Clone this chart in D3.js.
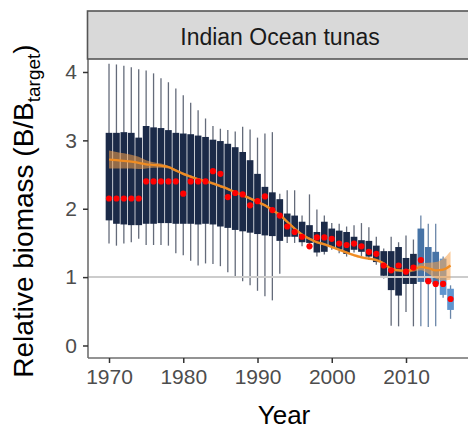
<!DOCTYPE html>
<html>
<head>
<meta charset="utf-8">
<script src="https://cdn.jsdelivr.net/npm/d3@7"></script>
<style>
  body { margin: 0; background: #fff; }
  text { font-family: 'Liberation Sans', Arial, sans-serif; }
</style>
</head>
<body>
<div id="chart"></div>
<script>
// values
const years = [1970, 1971, 1972, 1973, 1974, 1975, 1976, 1977, 1978, 1979,
  1980, 1981, 1982, 1983, 1984, 1985, 1986, 1987, 1988, 1989,
  1990, 1991, 1992, 1993, 1994, 1995, 1996, 1997, 1998, 1999,
  2000, 2001, 2002, 2003, 2004, 2005, 2006, 2007, 2008, 2009,
  2010, 2011, 2012, 2013, 2014, 2015, 2016];
const whiskerHigh = [4.12, 4.11, 4.09, 4.07, 4.04, 4.02, 3.98, 3.91, 3.85, 3.76,
  3.66, 3.55, 3.44, 3.32, 3.21, 3.17, 3.15, 3.13, 3.20, 3.16,
  3.04, 3.10, 3.12, 2.22, 2.27, 2.27, 1.90, 2.21, 1.99, 1.90,
  1.79, 1.78, 1.74, 1.76, 1.79, 1.73, 1.59, 1.42, 1.59, 1.51,
  1.61, 1.55, 1.90, 1.78, 1.78, 1.30, 0.88];
const boxHigh = [3.11, 3.11, 3.12, 3.11, 3.04, 3.21, 3.19, 3.18, 3.15, 3.11,
  3.10, 3.09, 3.07, 3.05, 3.01, 2.99, 2.95, 2.90, 2.83, 2.71,
  2.51, 2.32, 2.24, 2.14, 1.93, 1.90, 1.81, 1.76, 1.66, 1.81,
  1.71, 1.68, 1.66, 1.59, 1.54, 1.53, 1.46, 1.38, 1.38, 1.44,
  1.28, 1.34, 1.71, 1.44, 1.37, 1.27, 0.83];
const boxLow = [1.83, 1.78, 1.77, 1.76, 1.76, 1.78, 1.78, 1.79, 1.79, 1.78,
  1.78, 1.78, 1.77, 1.78, 1.77, 1.74, 1.72, 1.69, 1.67, 1.65,
  1.63, 1.61, 1.60, 1.53, 1.59, 1.59, 1.51, 1.50, 1.36, 1.37,
  1.44, 1.40, 1.34, 1.40, 1.37, 1.30, 1.22, 1.02, 0.81, 0.73,
  0.90, 0.90, 0.93, 0.93, 0.90, 0.74, 0.52];
const whiskerLow = [1.49, 1.46, 1.49, 1.51, 1.56, 1.47, 1.47, 1.47, 1.46, 1.35,
  1.32, 1.24, 1.17, 1.20, 1.19, 1.16, 1.07, 1.01, 0.94, 0.88,
  0.80, 0.72, 0.66, 1.05, 1.50, 1.50, 1.45, 1.45, 1.30, 1.33,
  1.40, 1.35, 1.30, 1.36, 1.30, 1.25, 1.18, 0.98, 0.29, 0.28,
  0.49, 0.28, 0.28, 0.27, 0.28, 0.70, 0.39];
const assessed = [2.15, 2.15, 2.15, 2.15, 2.15, 2.40, 2.40, 2.40, 2.40, 2.40,
  2.22, 2.40, 2.40, 2.40, 2.55, 2.51, 2.17, 2.23, 2.21, 2.05,
  2.11, 2.18, 1.98, 1.90, 1.74, 1.66, 1.59, 1.45, 1.58, 1.58,
  1.56, 1.49, 1.47, 1.49, 1.45, 1.37, 1.34, 1.17, 1.10, 1.17,
  1.08, 1.14, 1.25, 0.94, 0.90, 0.90, 0.68];
const smoothFit = [2.72, 2.71, 2.70, 2.69, 2.67, 2.65, 2.64, 2.63, 2.61, 2.56,
  2.51, 2.47, 2.43, 2.40, 2.37, 2.33, 2.29, 2.24, 2.20, 2.15,
  2.10, 2.05, 1.98, 1.91, 1.81, 1.71, 1.62, 1.56, 1.51, 1.48,
  1.44, 1.40, 1.36, 1.32, 1.29, 1.27, 1.25, 1.20, 1.12, 1.10,
  1.09, 1.11, 1.15, 1.13, 1.10, 1.11, 1.17];
const smoothBand = [0.13, 0.12, 0.11, 0.10, 0.09, 0.06, 0.04, 0.03, 0.02, 0.02,
  0.02, 0.02, 0.02, 0.02, 0.02, 0.02, 0.02, 0.02, 0.02, 0.02,
  0.02, 0.02, 0.02, 0.02, 0.02, 0.02, 0.02, 0.02, 0.02, 0.02,
  0.02, 0.02, 0.02, 0.02, 0.02, 0.02, 0.02, 0.02, 0.02, 0.02,
  0.02, 0.03, 0.05, 0.08, 0.12, 0.16, 0.21];
// 0 = older estimates, 1 = recent, 2 = most recent
const boxGroup = [0, 0, 0, 0, 0, 0, 0, 0, 0, 0,
  0, 0, 0, 0, 0, 0, 0, 0, 0, 0,
  0, 0, 0, 0, 0, 0, 0, 0, 0, 0,
  0, 0, 0, 0, 0, 0, 0, 0, 0, 0,
  0, 0, 1, 1, 1, 2, 2];
const yTicks = [0, 1, 2, 3, 4];
const xTicks = [1970, 1980, 1990, 2000, 2010];
const targetLine = 1;
const panelTitle = 'Indian Ocean tunas';

class BiomassChart {
  constructor(_config) {
    this.config = {
      parentElement: _config.parentElement,
      containerWidth: _config.containerWidth || 468,
      containerHeight: _config.containerHeight || 431,
      margin: _config.margin || { top: 59, right: -2, bottom: 73, left: 88 },
    };
    this.data = years.map((yr, i) => ({
      year: yr,
      hi: whiskerHigh[i],
      q3: boxHigh[i],
      q1: boxLow[i],
      lo: whiskerLow[i],
      est: assessed[i],
      fit: smoothFit[i],
      band: smoothBand[i],
      group: boxGroup[i],
    }));
    this.initVis();
  }

  initVis() {
    let vis = this;

    vis.width = vis.config.containerWidth - vis.config.margin.left - vis.config.margin.right;
    vis.height = vis.config.containerHeight - vis.config.margin.top - vis.config.margin.bottom;

    vis.svg = d3.select(vis.config.parentElement)
      .append('svg')
      .attr('width', vis.config.containerWidth)
      .attr('height', vis.config.containerHeight)
      .attr('display', 'block');

    vis.chart = vis.svg.append('g')
      .attr('transform', `translate(${vis.config.margin.left},${vis.config.margin.top})`);

    vis.xScale = d3.scaleLinear()
      .domain([1967.17, 2018.62])
      .range([0, vis.width]);

    vis.yScale = d3.scaleLinear()
      .domain([-0.183, 4.19])
      .range([vis.height, 0]);

    vis.colorScale = d3.scaleOrdinal()
      .domain([0, 1, 2])
      .range(['#1b2a48', '#4673a6', '#5f95cf']);

    vis.renderVis();
  }

  renderVis() {
    let vis = this;
    const x = vis.xScale, y = vis.yScale;
    const bw = 0.9 * (x(1971) - x(1970));

    // whiskers
    vis.chart.selectAll('.whisker')
      .data(vis.data)
      .join('line')
      .attr('class', 'whisker')
      .attr('x1', d => x(d.year))
      .attr('x2', d => x(d.year))
      .attr('y1', d => y(d.hi))
      .attr('y2', d => y(d.lo))
      .attr('stroke', d => d.group === 0 ? '#646b7a' : '#6a86a8')
      .attr('stroke-width', 1.3);

    // boxes
    vis.chart.selectAll('.box')
      .data(vis.data)
      .join('rect')
      .attr('class', 'box')
      .attr('x', d => x(d.year) - bw / 2)
      .attr('width', bw)
      .attr('y', d => y(d.q3))
      .attr('height', d => y(d.q1) - y(d.q3))
      .attr('fill', d => vis.colorScale(d.group));

    // reference line at B/Btarget = 1
    vis.chart.append('line')
      .attr('x1', 0)
      .attr('x2', vis.width)
      .attr('y1', y(targetLine))
      .attr('y2', y(targetLine))
      .attr('stroke', '#cccccc')
      .attr('stroke-width', 2);

    // smoother ribbon + line
    const area = d3.area()
      .x(d => x(d.year))
      .y0(d => y(d.fit - d.band))
      .y1(d => y(d.fit + d.band))
      .curve(d3.curveMonotoneX);
    vis.chart.append('path')
      .datum(vis.data)
      .attr('d', area)
      .attr('fill', '#f5a04a')
      .attr('fill-opacity', 0.55);

    const line = d3.line()
      .x(d => x(d.year))
      .y(d => y(d.fit))
      .curve(d3.curveMonotoneX);
    vis.chart.append('path')
      .datum(vis.data)
      .attr('d', line)
      .attr('fill', 'none')
      .attr('stroke', '#f08c22')
      .attr('stroke-width', 2.2);

    // assessment points
    vis.chart.selectAll('.est')
      .data(vis.data)
      .join('circle')
      .attr('class', 'est')
      .attr('cx', d => x(d.year))
      .attr('cy', d => y(d.est))
      .attr('r', 3.1)
      .attr('fill', '#ff0000');

    // axes
    const xAxis = d3.axisBottom(x).tickValues(xTicks).tickFormat(d3.format('d'))
      .tickSize(5).tickPadding(6);
    const yAxis = d3.axisLeft(y).tickValues(yTicks).tickFormat(d3.format('d'))
      .tickSize(5).tickPadding(6);

    const xg = vis.chart.append('g')
      .attr('transform', `translate(0,${vis.height})`)
      .call(xAxis);
    const yg = vis.chart.append('g').call(yAxis);

    [xg, yg].forEach(g => {
      g.select('.domain').attr('stroke', '#6f6f6f').attr('stroke-width', 1.6);
      g.selectAll('.tick line').attr('stroke', '#333').attr('stroke-width', 1.5);
      g.selectAll('.tick text')
        .attr('fill', '#4d4d4d')
        .style('font-size', '21px')
        .style('font-family', "'Liberation Sans', Arial, sans-serif");
    });
    xg.select('.domain').attr('d', `M0,0H${vis.width}`);
    yg.select('.domain').attr('d', `M0,0V${vis.height}`);

    // facet strip
    vis.chart.append('rect')
      .attr('x', -0.5)
      .attr('y', -48)
      .attr('width', vis.width + 10)
      .attr('height', 48)
      .attr('fill', '#d9d9d9')
      .attr('stroke', '#555')
      .attr('stroke-width', 1.6);
    vis.chart.append('text')
      .attr('x', 192)
      .attr('y', -14)
      .attr('text-anchor', 'middle')
      .style('font-size', '23px')
      .attr('fill', '#1a1a1a')
      .text(panelTitle);

    // axis titles
    vis.svg.append('text')
      .attr('x', 284)
      .attr('y', 424)
      .attr('text-anchor', 'middle')
      .style('font-size', '26px')
      .attr('fill', '#000')
      .text('Year');

    const yt = vis.svg.append('text')
      .attr('transform', 'translate(33,211) rotate(-90)')
      .attr('text-anchor', 'middle')
      .style('font-size', '28px')
      .attr('fill', '#000');
    yt.append('tspan').text('Relative biomass (B/B');
    yt.append('tspan').attr('dy', 7).style('font-size', '19px').text('target');
    yt.append('tspan').attr('dy', -7).text(')');
  }
}

new BiomassChart({ parentElement: '#chart' });
</script>
</body>
</html>
